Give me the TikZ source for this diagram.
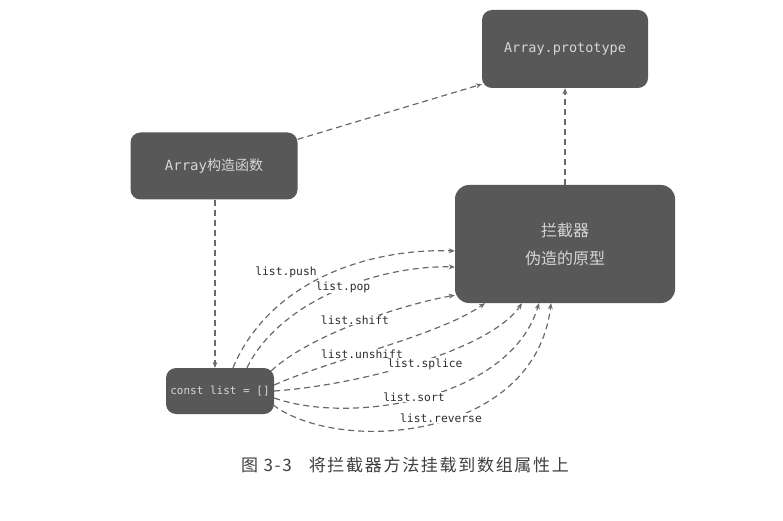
\documentclass[tikz,border=0pt]{standalone}
\usepackage{fontspec}
\setmonofont{DejaVu Sans Mono}
\newfontfamily\cjk{Noto Sans CJK SC}
\newfontfamily\capfont[LetterSpace=10]{Noto Sans CJK SC}
\usetikzlibrary{arrows.meta}
\definecolor{boxfill}{RGB}{88,88,88}
\definecolor{boxtext}{RGB}{214,214,214}
\definecolor{linkgray}{RGB}{105,105,105}
\definecolor{labeltext}{RGB}{45,45,45}
\definecolor{captext}{RGB}{62,62,62}
\begin{document}
\begin{tikzpicture}[x=1pt,y=-1pt,
  box/.style={fill=boxfill, rounded corners=10pt, inner sep=0pt, text=boxtext, align=center},
  link/.style={draw=linkgray, line width=1.2pt, dash pattern=on 6pt off 4pt,
    -{Stealth[length=6pt,width=5pt]}},
  lbl/.style={fill=white, inner sep=1pt, text=labeltext,
    font=\ttfamily\fontsize{11.3}{13}\selectfont}]
\useasboundingbox (0,0) rectangle (783,521);

% boxes
\node[box, minimum width=166pt, minimum height=78pt,
  font=\ttfamily\fontsize{13.5}{16}\selectfont] (proto) at (565,49) {\raisebox{-4pt}{Array.prototype}};
\node[box, minimum width=167pt, minimum height=67pt,
  font=\fontsize{14}{16}\selectfont] (ctor) at (214,166) {{\ttfamily Array}{\cjk 构造函数}};
\node[box, minimum width=220pt, minimum height=118pt, rounded corners=14pt,
  font=\cjk\fontsize{16}{28}\selectfont] (intc) at (565,244) {拦截器\\伪造的原型};
\node[box, minimum width=108pt, minimum height=46pt,
  font=\ttfamily\fontsize{11}{13}\selectfont] (list) at (220,391) {const list = []};

% prototype links
\draw[link] ([yshift=-7pt]ctor.north east) -- ([yshift=4pt]proto.south west);
\draw[link] (intc.north) -- (proto.south);
\draw[link] ([xshift=1pt]ctor.south) -- ([xshift=-5pt]list.north);

% intercepted methods
\draw[link] ([xshift=13pt]list.north) .. controls (270,280) and (370,248) .. ([yshift=-7pt]intc.west);
\draw[link] ([xshift=27pt]list.north) .. controls (280,300) and (380,265) .. ([yshift=-23pt]intc.west);
\draw[link] ([xshift=-3pt,yshift=-3pt]list.north east) .. controls (310,335) and (400,305) .. ([yshift=8pt]intc.south west);
\draw[link] ([yshift=6pt]list.east) .. controls (330,360) and (440,335) .. ([xshift=-80pt]intc.south);
\draw[link] (list.east) .. controls (360,385) and (490,350) .. ([xshift=-43pt]intc.south);
\draw[link] ([yshift=-7pt]list.east) .. controls (350,425) and (510,400) .. ([xshift=-26pt]intc.south);
\draw[link] ([xshift=-1pt,yshift=-14pt]list.east) .. controls (340,455) and (535,440) .. ([xshift=-14pt]intc.south);

% method labels
\node[lbl] (lpush) at (286,272) {list.push};
\node[lbl] (lpop) at (343,287) {list.pop};
\node[lbl] (lshift) at (355,320) {list.shift};
\node[lbl] (lunshift) at (362,354) {list.unshift};
\node[lbl] (lsplice) at (425,364) {list.splice};
\node[lbl] (lsort) at (414,397) {list.sort};
\node[lbl] (lreverse) at (441,418) {list.reverse};

% caption
\node[text=captext, font=\capfont\fontsize{17}{20}\selectfont] (cap) at (405,465)
  {图 3-3\hspace{1em}将拦截器方法挂载到数组属性上};
\end{tikzpicture}
\end{document}
